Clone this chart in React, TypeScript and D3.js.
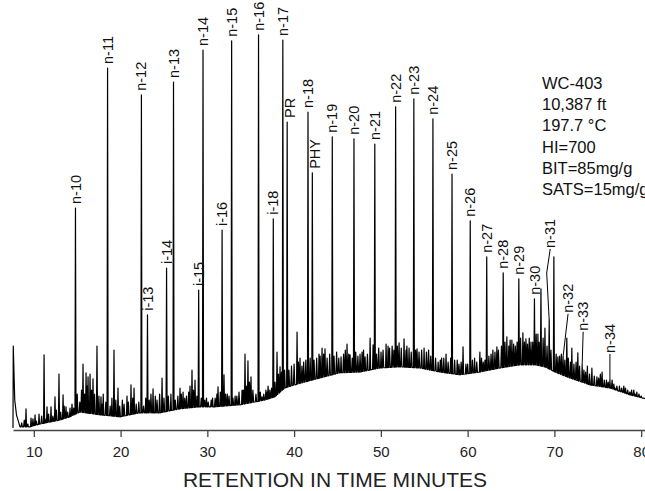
import * as d3 from 'd3'
import React from 'react'

// labelled peaks: retention time (min) and peak top (relative response, 0-100)
const peakNames = ['n-10', 'n-11', 'n-12', 'i-13', 'i-14', 'n-13', 'i-15', 'n-14', 'i-16', 'n-15', 'n-16', 'i-18', 'n-17', 'PR', 'n-18', 'PHY', 'n-19', 'n-20', 'n-21', 'n-22', 'n-23', 'n-24', 'n-25', 'n-26', 'n-27', 'n-28', 'n-29', 'n-30', 'n-31', 'n-32', 'n-33', 'n-34']
const peakTimes = [14.8, 18.5, 22.4, 23.1, 25.3, 26.1, 29.0, 29.5, 31.7, 32.8, 35.9, 37.6, 38.7, 39.2, 41.6, 42.1, 44.4, 46.9, 49.3, 51.7, 53.8, 56.0, 58.2, 60.3, 62.2, 64.1, 65.9, 67.7, 69.4, 71.0, 73.2, 76.4]
const peakTops = [55.5, 90.5, 83.8, 28.8, 40.5, 87, 35, 95, 50, 97.3, 98.8, 52.8, 97.5, 77, 79.5, 64.3, 73.3, 72.8, 71.5, 80.8, 82.8, 77.8, 64, 52.3, 43.3, 39.3, 37.8, 32.8, 27.5, 18.3, 16.3, 12.5]

// unlabelled smaller peaks
const minorTimes = [9.1, 9.68, 10.14, 10.6, 11.18, 11.52, 11.98, 12.44, 12.9, 13.37, 13.71, 14.17, 15.67, 16.02, 16.25, 16.48, 16.82, 17.28, 17.74, 18.0, 19.0, 19.24, 19.7, 20.2, 20.74, 21.2, 21.55, 22.9, 23.74, 24.0, 24.78, 25.8, 26.85, 27.2, 27.6, 28.0, 28.23, 28.58, 29.9, 30.31, 30.6, 31.23, 31.92, 32.3, 33.2, 34.0, 34.34, 34.68, 35.03, 36.3, 36.9, 37.2, 38.03, 38.38, 40.34, 40.68, 42.87, 43.22, 43.56, 45.41, 46.1, 46.45, 47.83, 48.18, 48.76, 49.1, 50.02, 50.6, 50.83, 52.1, 52.67, 53.25, 54.17, 54.98, 56.6, 57.0, 57.51, 58.8, 59.47, 59.8, 60.8, 61.41, 61.8, 62.91, 63.37, 64.52, 65.1, 65.5, 66.37, 66.72, 67.3, 68.1, 68.45, 68.91, 69.94, 70.4, 71.43, 72.01, 72.7, 73.8, 74.32, 74.9, 75.5, 76.0, 76.98, 77.5, 78.2, 78.9, 79.5]
const minorTops = [5.3, 3, 3.8, 4, 18.8, 5.8, 5.8, 8.3, 14, 8.8, 5.8, 5.5, 16.5, 14.3, 13.3, 14, 12.8, 21, 8.3, 9, 8, 20, 10.5, 7.5, 8.5, 11.3, 10.5, 8, 10.3, 8.5, 13, 9, 10.5, 9.5, 8.5, 11, 15, 12.5, 8, 5.8, 8, 10.8, 13.8, 9, 8.5, 10, 19, 17.3, 13.3, 8.3, 9.5, 10, 19.5, 15.8, 24.5, 18, 19, 20.5, 20.3, 18.3, 21.5, 18.8, 19.5, 18.3, 23, 21.3, 19.5, 21.5, 21, 21.8, 22.8, 20.5, 20.3, 20.5, 17, 18, 19, 17.5, 20.8, 16.5, 18, 19.5, 17, 20, 20.8, 23.3, 22.5, 21, 24.3, 22.8, 22, 24, 35.3, 25.5, 43.3, 18.3, 23, 20.5, 19.3, 16, 15.5, 13.3, 14.5, 12.5, 10.5, 11, 10.5, 10, 9.5]

// baseline noise: tops of the small wiggles in the trace band
const noiseTimes = [8.6, 8.9, 9.3, 9.9, 10.3, 10.9, 11.3, 11.7, 12.2, 12.6, 13.1, 13.5, 13.9, 14.4, 14.6, 15.0, 15.3, 15.5, 15.85, 16.15, 16.65, 17.0, 17.5, 17.9, 18.3, 18.8, 19.45, 19.9, 20.4, 20.9, 21.4, 21.8, 22.1, 22.65, 23.3, 23.5, 24.2, 24.5, 25.0, 25.5, 26.3, 26.6, 27.0, 27.4, 27.85, 28.4, 28.8, 29.3, 29.7, 30.1, 30.45, 30.9, 31.1, 31.5, 32.1, 32.5, 32.95, 33.4, 33.65, 34.15, 34.5, 34.85, 35.25, 35.6, 36.1, 36.5, 36.75, 37.0, 37.4, 37.8, 38.2, 38.55, 38.9, 39.4, 39.7, 40.0, 40.5, 40.9, 41.1, 41.35, 41.85, 42.3, 42.6, 43.0, 43.4, 43.8, 44.1, 44.6, 44.9, 45.15, 45.7, 45.9, 46.3, 46.7, 47.1, 47.35, 47.6, 48.0, 48.45, 49.5, 49.75, 50.25, 51.0, 51.3, 51.5, 51.9, 52.35, 52.9, 53.0, 53.5, 54.0, 54.4, 54.7, 55.25, 55.5, 55.75, 56.3, 56.85, 57.25, 57.75, 58.05, 58.5, 59.0, 59.25, 60.0, 60.55, 61.05, 61.6, 62.0, 62.45, 62.7, 63.15, 63.55, 63.9, 64.3, 64.75, 64.9, 65.3, 65.7, 66.1, 66.55, 66.9, 67.1, 67.5, 67.9, 68.25, 68.7, 69.15, 69.6, 70.2, 70.6, 70.8, 71.2, 71.6, 71.85, 72.25, 72.5, 72.9, 73.4, 73.6, 74.05, 74.6, 75.1, 75.3, 75.75, 76.2, 76.65, 76.85, 77.2, 77.75, 78.0, 78.45, 78.7, 79.15, 79.3, 79.75, 80.0, 80.3]
const noiseTops = [1.8, 2.5, 1.5, 2.8, 2.2, 3.5, 2.8, 4, 3.5, 5, 4.5, 6, 4.5, 6.5, 5.5, 9, 7, 10, 9, 11, 10, 9, 8.5, 6.5, 7, 6, 7.5, 6, 6.5, 7, 8, 6.5, 7, 6, 7.5, 9, 7.5, 9, 8, 8.5, 7.5, 8.5, 9, 8, 9.5, 10, 8.5, 8, 7.5, 7, 7.5, 8, 9, 9.5, 9, 8.5, 8, 8.5, 9.5, 10, 11, 12, 10, 9, 9.5, 9, 10, 11, 10.5, 12, 14, 14.5, 15, 15, 16, 16.5, 17, 16, 17, 17.5, 18, 17.5, 18, 18.5, 19, 18, 19, 18.5, 19.5, 18, 19, 20, 19, 18, 19.5, 18.5, 19, 20, 19, 19, 20.5, 20, 20.5, 21, 20, 21, 20.5, 20, 21, 19.5, 20, 19.5, 20, 19.5, 20, 18.5, 18, 17.5, 18, 17, 18, 17.5, 16.5, 17, 16.5, 17.5, 17, 18, 17.5, 18.5, 19, 19.5, 20, 21, 22, 21, 22.5, 21.5, 22, 23, 22, 21.5, 23, 22, 24, 22, 23, 21, 20, 19, 18.5, 19, 17.5, 18, 17, 16.5, 17, 16, 15, 14.5, 14, 13.5, 13, 14, 12.5, 12, 12.5, 11.5, 11, 10.5, 11, 10, 9.5, 10, 9, 9, 8.5, 8]

// lower edge of the trace (solvent tail and unresolved hump)
const baseTimes = [7.6, 7.63, 7.8, 8.0, 8.41, 9.56, 10.71, 11.87, 13.02, 14.17, 15.32, 17.63, 19.93, 22.24, 24.54, 26.84, 29.15, 30.88, 33.76, 35.49, 36.64, 37.79, 38.94, 40.09, 41.24, 42.97, 45.27, 47.58, 49.88, 52.19, 54.49, 56.8, 59.1, 61.41, 63.71, 66.02, 67.75, 68.9, 70.05, 71.78, 74.08, 76.39, 78.69, 80.5]
const baseLevels = [0.5, 21, 7.5, 3.8, 0.8, 0.8, 1.5, 2, 2.5, 3.3, 4.5, 3.8, 3.3, 4.3, 4.3, 5.3, 5.8, 5.8, 6.3, 7, 7.5, 8.3, 10.5, 11.3, 12, 13, 14.3, 14.5, 15.5, 15.8, 15.5, 14.5, 13.8, 14.5, 15.5, 16.3, 16.3, 15.8, 14.5, 13, 11.3, 10.5, 8.8, 7.8]

const xTicks = [10, 20, 30, 40, 50, 60, 70, 80]
const sampleInfo = ['WC-403', '10,387 ft', '197.7 °C', 'HI=700', 'BIT=85mg/g', 'SATS=15mg/g']

// label placement tweaks (pixels)
const labelNudge: Record<string, { dx: number; rise: number; bend?: number }> = {
    PR: { dx: 3, rise: 0 },
    PHY: { dx: 3, rise: 0 },
    'n-31': { dx: 1, rise: 68, bend: -2.5 },
    'n-32': { dx: 5, rise: 40 },
    'n-33': { dx: 1, rise: 30 },
    'n-34': { dx: 0, rise: 23 },
}

const width = 645
const height = 491
const axisY = 430
const font = '"Liberation Sans", Arial, Helvetica, sans-serif'

const x = d3.scaleLinear().domain([7.6, 80.5]).range([13, 645.5])
const y = d3.scaleLinear().domain([0, 100]).range([axisY, 30])

function buildTrace() {
    const baseAt = d3.scaleLinear().domain(baseTimes).range(baseLevels).clamp(true)
    const events: { t: number; kind: 'b' | 's'; v: number; hw: number }[] = [
        ...baseTimes.map((t, i) => ({ t, kind: 'b' as const, v: baseLevels[i], hw: 0 })),
        ...peakTimes.map((t, i) => ({ t, kind: 's' as const, v: peakTops[i], hw: 0.06 })),
        ...minorTimes.map((t, i) => ({ t, kind: 's' as const, v: minorTops[i], hw: 0.06 })),
        ...noiseTimes.map((t, i) => ({ t, kind: 's' as const, v: noiseTops[i], hw: 0.08 })),
    ].sort((a, b) => a.t - b.t)
    const pts: [number, number][] = []
    events.forEach((e) => {
        if (e.kind === 'b') {
            pts.push([e.t, e.v])
        } else {
            pts.push([e.t - e.hw, baseAt(e.t - e.hw)])
            pts.push([e.t, e.v])
            pts.push([e.t + e.hw, baseAt(e.t + e.hw)])
        }
    })
    return pts
}

export default function App() {
    const axisRef = React.useRef<SVGGElement | null>(null)
    const trace = React.useMemo(() => buildTrace(), [])
    const line = d3
        .line<[number, number]>()
        .x((d) => x(d[0]))
        .y((d) => y(d[1]))

    React.useEffect(() => {
        const g = d3.select(axisRef.current)
        g.selectAll('*').remove()
        // @ts-ignore
        g.call(d3.axisBottom(x).tickValues(xTicks).tickSize(7).tickPadding(9).tickSizeOuter(0))
        g.select('.domain').attr('stroke', '#444').attr('stroke-width', 1.3)
        g.selectAll('.tick line').attr('stroke', '#444').attr('stroke-width', 1.3)
        g.selectAll('.tick text')
            .attr('fill', '#222')
            .style('font-size', '15px')
            .style('font-family', font)
    }, [])

    return (
        <svg
            width={width}
            height={height}
            style={{ position: 'absolute', left: 0, top: 0, display: 'block', background: '#fff' }}
        >
            <path d={line(trace) || ''} fill="none" stroke="#000" strokeWidth={1.2} strokeLinejoin="round" />
            <g ref={axisRef} transform={`translate(0,${axisY})`} />
            {peakNames.map((name, i) => {
                const nudge = labelNudge[name] || { dx: 0, rise: 0 }
                const px = x(peakTimes[i])
                const py = y(peakTops[i])
                const lx = px + nudge.dx
                const ly = py - 4 - nudge.rise
                let leader = null
                if (nudge.rise > 0) {
                    const path = d3.path()
                    path.moveTo(lx, ly + 1)
                    if (nudge.bend !== undefined) path.lineTo(px + nudge.bend, ly + 25)
                    path.lineTo(px, py)
                    leader = <path d={path.toString()} fill="none" stroke="#000" strokeWidth={1} />
                }
                return (
                    <g key={name}>
                        {leader}
                        <text
                            transform={`translate(${lx},${ly}) rotate(-90)`}
                            dy="0.35em"
                            fontSize={14.5}
                            fontFamily={font}
                            fill="#111"
                        >
                            {name}
                        </text>
                    </g>
                )
            })}
            {sampleInfo.map((s, i) => (
                <text key={s} x={542} y={89 + i * 21.2} fontSize={16.5} fontFamily={font} fill="#111">
                    {s}
                </text>
            ))}
            <text x={335} y={487} textAnchor="middle" fontSize={21} fontFamily={font} fill="#222">
                RETENTION IN TIME MINUTES
            </text>
        </svg>
    )
}
